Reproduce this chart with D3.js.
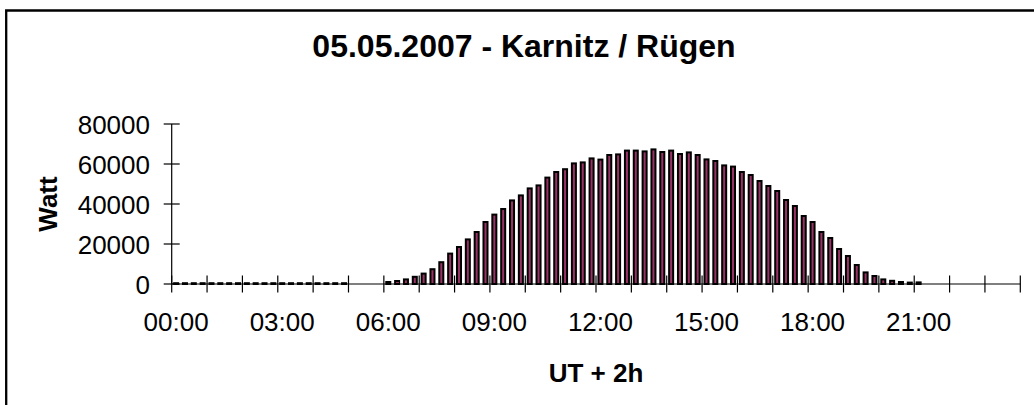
<!DOCTYPE html>
<html>
<head>
<meta charset="utf-8">
<script src="https://cdn.jsdelivr.net/npm/d3@7"></script>
<style>
  html, body { margin: 0; padding: 0; background: #fff; overflow: hidden; }
  svg { display: block; overflow: hidden; }
  text { font-family: "Liberation Sans", Arial, sans-serif; fill: #000; }
</style>
</head>
<body>
<svg id="chart" width="1034" height="405"></svg>
<script>
// Quarter-hour slots of the day, 00:00 ... 23:45
const slots = d3.range(96).map(i => d3.format("02")(Math.floor(i / 4)) + ":" + d3.format("02")((i % 4) * 15));

// Power output per slot in watts (null = no reading)
const power = [
  400, 400, 400, 400, 400, 400, 400, 400, 400, 400,
  400, 400, 400, 400, 400, 400, 400, 400, 400, 400,
  null, null, null, null,
  1000, 1500, 2300, 3600, 5200, 7400, 10900, 15200, 18500, 22300,
  26000, 31000, 34700, 37500, 41800, 44300, 47800, 49300, 53200, 56000,
  57400, 60300, 60800, 62800, 62200, 64500, 64800, 66700, 66700, 66300,
  67300, 66000, 66700, 65000, 65800, 64500, 62300, 61500, 59300, 58700,
  56000, 54500, 51500, 49000, 46500, 42000, 39000, 34000, 31000, 26000,
  23000, 17500, 14000, 9500, 5800, 4000, 2300, 1600, 1000, 700,
  800,
  null, null, null, null, null, null, null, null, null, null, null
];

const xLabels = ["00:00", "03:00", "06:00", "09:00", "12:00", "15:00", "18:00", "21:00"];
const yTicks = [0, 20000, 40000, 60000, 80000];

const titleText = "05.05.2007 - Karnitz / Rügen";
const xTitle = "UT + 2h";
const yTitle = "Watt";

const svg = d3.select("#chart");

// outer chart frame (left and top edges fall inside the view)
svg.append("path")
  .attr("d", "M6.2,405 V10.5 H1034")
  .attr("fill", "none").attr("stroke", "#000").attr("stroke-width", 2.3);

const plot = { left: 171.7, right: 1020.3, top: 124, bottom: 284 };

const x = d3.scaleBand().domain(slots).range([plot.left, plot.right]).padding(0);
const y = d3.scaleLinear().domain([0, 80000]).range([plot.bottom, plot.top]);

// bars
const bw = x.bandwidth();
const barOuter = bw * 0.68;
const strokeW = 2;
svg.append("g")
  .selectAll("rect")
  .data(slots.map((s, i) => ({ s, v: power[i] })).filter(d => d.v != null))
  .join("rect")
  .attr("x", d => x(d.s) + (bw - barOuter) / 2 + strokeW / 2)
  .attr("width", barOuter - strokeW)
  .attr("y", d => y(d.v))
  .attr("height", d => y(0) - y(d.v))
  .attr("fill", "#993366")
  .attr("stroke", "#000")
  .attr("stroke-width", strokeW);

// x axis: line, crossing ticks every hour, labels every three hours
const xAxis = svg.append("g");
xAxis.append("line")
  .attr("x1", plot.left).attr("x2", plot.right)
  .attr("y1", y(0)).attr("y2", y(0))
  .attr("stroke", "#000").attr("stroke-width", 1.2);
const hourEdges = slots.filter((s, i) => i % 4 === 0).map(s => x(s)).concat([plot.right]);
xAxis.selectAll("line.tick")
  .data(hourEdges)
  .join("line")
  .attr("class", "tick")
  .attr("x1", d => d).attr("x2", d => d)
  .attr("y1", y(0) - 8.5).attr("y2", y(0) + 8.5)
  .attr("stroke", "#000").attr("stroke-width", 1.2);
xAxis.selectAll("text")
  .data(xLabels)
  .join("text")
  .attr("x", d => x(d) + bw / 2)
  .attr("y", 330.5)
  .attr("text-anchor", "middle")
  .attr("font-size", 26)
  .text(d => d);

// y axis
const yAxis = svg.append("g");
yAxis.append("line")
  .attr("x1", plot.left).attr("x2", plot.left)
  .attr("y1", y(0)).attr("y2", y(80000))
  .attr("stroke", "#000").attr("stroke-width", 1.2);
yAxis.selectAll("line.tick")
  .data(yTicks)
  .join("line")
  .attr("class", "tick")
  .attr("x1", plot.left - 8).attr("x2", plot.left + 8)
  .attr("y1", d => y(d)).attr("y2", d => y(d))
  .attr("stroke", "#000").attr("stroke-width", 1.2);
yAxis.selectAll("text")
  .data(yTicks)
  .join("text")
  .attr("x", 150)
  .attr("y", d => y(d) + 9.5)
  .attr("text-anchor", "end")
  .attr("font-size", 26)
  .text(d => d);

// titles
svg.append("text")
  .attr("x", 524).attr("y", 57)
  .attr("text-anchor", "middle")
  .attr("font-size", 32).attr("font-weight", "bold")
  .text(titleText);

svg.append("text")
  .attr("x", (plot.left + plot.right) / 2).attr("y", 382)
  .attr("text-anchor", "middle")
  .attr("font-size", 26).attr("font-weight", "bold")
  .text(xTitle);

svg.append("text")
  .attr("transform", `translate(57, ${(plot.top + plot.bottom) / 2}) rotate(-90)`)
  .attr("text-anchor", "middle")
  .attr("font-size", 26).attr("font-weight", "bold")
  .text(yTitle);
</script>
</body>
</html>
